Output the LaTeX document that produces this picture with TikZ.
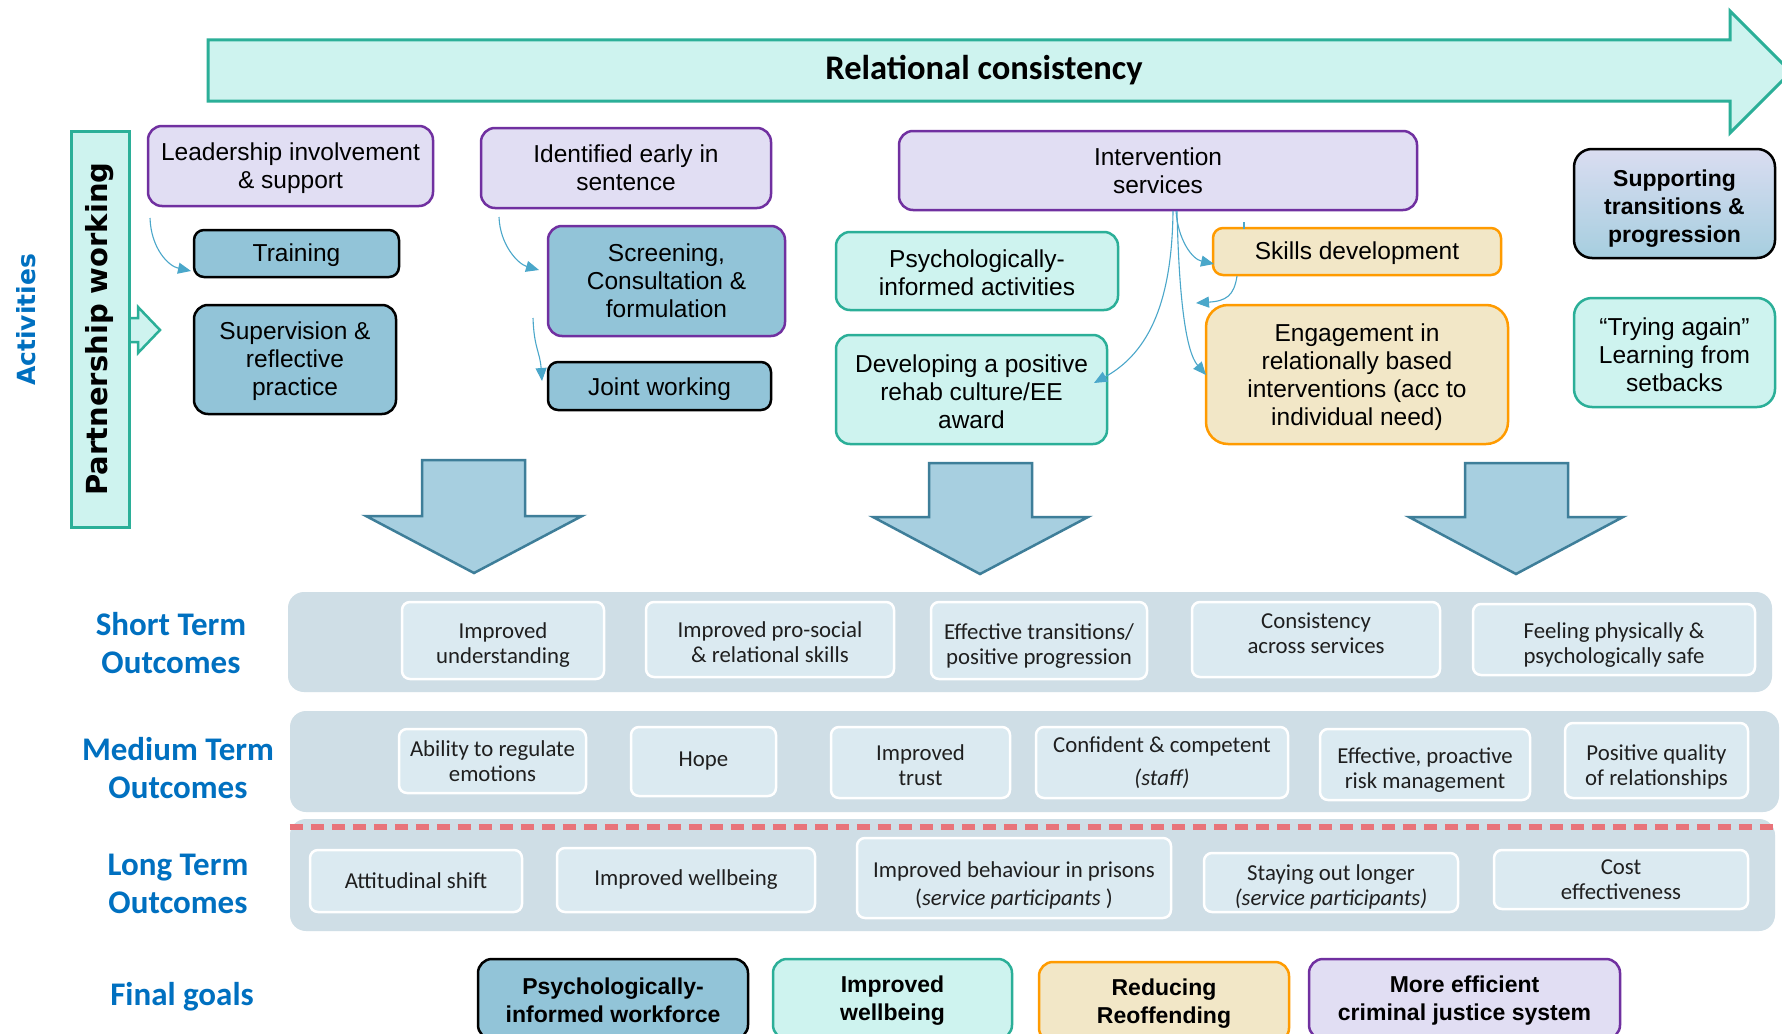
\documentclass[tikz,border=0pt]{standalone}
\usepackage{fontspec}
\setmainfont{Liberation Sans}
\newfontfamily\calfont{Carlito}
\newfontfamily\dvfont{DejaVu Sans}
\usetikzlibrary{arrows.meta}
\newcommand\tup[1]{\rule{0pt}{#1pt}}
\definecolor{purpc}{HTML}{7030A0}
\definecolor{lavc}{HTML}{E1DEF3}
\definecolor{steelc}{HTML}{92C4D8}
\definecolor{tealc}{HTML}{2BAF98}
\definecolor{cyanc}{HTML}{CEF3EF}
\definecolor{orc}{HTML}{FF9B00}
\definecolor{beigec}{HTML}{F2E7C7}
\definecolor{arrowfill}{HTML}{A7CFE0}
\definecolor{arrowdraw}{HTML}{3E7E99}
\definecolor{bandc}{HTML}{CFDEE6}
\definecolor{inboxc}{HTML}{DBEAF1}
\definecolor{redc}{HTML}{E8737A}
\definecolor{bluec}{HTML}{0070C0}
\definecolor{connc}{HTML}{4AA7CA}
\definecolor{suptop}{HTML}{DADDF1}
\definecolor{supbot}{HTML}{A6CEDF}
\begin{document}
\begin{tikzpicture}[x=1pt,y=-1pt,
  sz/.style 2 args={minimum width=#1pt, minimum height=#2pt},
  upw/.style={execute at end node={\rule[-#1pt]{0pt}{#1pt}}},
  actbox/.style={rounded corners=14pt, line width=2.5pt, align=center, inner sep=0pt, font=\fontsize{24.5}{28}\selectfont},
  purpbox/.style={actbox, draw=purpc, fill=lavc},
  blkbox/.style={actbox, draw=black, fill=steelc},
  tealbox/.style={actbox, draw=tealc, fill=cyanc},
  orbox/.style={actbox, draw=orc, fill=beigec},
  goalfont/.style={font=\bfseries\fontsize{23}{28}\selectfont},
  outbox/.style={rounded corners=8pt, draw=white, line width=2.5pt, fill=inboxc, align=center, inner sep=0pt, text=black!88, font=\calfont\fontsize{22.8}{25}\selectfont},
  bandbox/.style={rounded corners=16pt, fill=bandc, inner sep=0pt},
  lbl/.style={text=bluec, align=center, font=\calfont\bfseries\fontsize{33}{38}\selectfont},
  conn/.style={draw=connc, line width=1.1pt, -{Triangle[length=13pt,width=11pt]}},
  bigarrow/.style={fill=arrowfill, draw=arrowdraw, line width=2.5pt, line join=miter}
]
\useasboundingbox (0,0) rectangle (1782,1033);
\fill[white] (0,0) rectangle (1782,1033);
\clip (0,0) rectangle (1782,1033);

% Relational consistency arrow
\draw[fill=cyanc, draw=tealc, line width=3pt, line join=miter]
  (208,40) -- (1730,40) -- (1730,11) -- (1791,72) -- (1730,133) -- (1730,101) -- (208,101) -- cycle;
\node[font=\calfont\bfseries\fontsize{34.5}{40}\selectfont] (rel) at (984,70) {Relational consistency};

% Activities label and partnership working
\node[rotate=90, text=bluec, font=\dvfont\bfseries\fontsize{25}{30}\selectfont] (act) at (26,320) {Activities};
\draw[fill=cyanc, draw=tealc, line width=2.5pt, line join=miter]
  (129,318) -- (138,318) -- (138,307) -- (160,330) -- (138,353) -- (138,342) -- (129,342);
\node[rotate=90, sz={396}{58}, draw=tealc, fill=cyanc, line width=3pt, inner sep=0pt,
  font=\dvfont\bfseries\fontsize{29}{32}\selectfont] (pw) at (100,329) {Partnership working};

% Activity boxes
\node[purpbox, sz={285}{80}] (lead) at (290.5,166) {\tup{22}Leadership involvement\\\& support};
\node[blkbox, sz={205}{47}, rounded corners=10pt] (train) at (296.5,253.5) {\tup{22}Training};
\node[blkbox, sz={202}{109}] (superv) at (295,359.5) {\tup{21}Supervision \&\\reflective\\practice};

\node[purpbox, sz={290}{80}] (ident) at (626,168) {Identified early in\\sentence};
\node[actbox, draw=purpc, fill=steelc, sz={237}{110}] (screen) at (666.5,281) {Screening,\\Consultation \&\\formulation};
\node[blkbox, sz={223}{48}, rounded corners=10pt] (joint) at (659.5,386) {\tup{24}Joint working};

\node[purpbox, sz={518}{79}] (interv) at (1158,170.5) {Intervention\\services};
\node[tealbox, sz={282}{78}] (psych) at (977,271) {\tup{22}Psychologically-\\informed activities};
\node[tealbox, sz={271}{109}] (devel) at (971.5,389.5) {\tup{23}Developing a positive\\rehab culture/EE\\award};
\node[orbox, sz={288}{47}, rounded corners=10pt] (skills) at (1357,251.5) {\tup{22}Skills development};
\node[orbox, sz={302}{139}, rounded corners=22pt] (engage) at (1357,374.5) {\tup{23}Engagement in\\relationally based\\interventions (acc to\\individual need)};

\node[actbox, draw=black, top color=suptop, bottom color=supbot, sz={201}{109}, rounded corners=18pt,
  font=\bfseries\fontsize{23}{28}\selectfont] (support) at (1674.5,203.5) {\tup{26}Supporting\\transitions \&\\progression};
\node[tealbox, sz={201}{109}, rounded corners=18pt] (trying) at (1674.5,352.5) {\tup{23}“Trying again”\\Learning from\\setbacks};

% Connectors
\coordinate (s1) at (150,218);
\coordinate (e1) at (191,271);
\draw[conn] (s1) .. controls (151,248) and (168,266) .. (e1);
\coordinate (s2) at (499,217);
\coordinate (e2) at (539,270);
\draw[conn] (s2) .. controls (500,245) and (518,264) .. (e2);
\coordinate (s3) at (533,318);
\coordinate (e3) at (542,381);
\draw[conn] (s3) .. controls (534,348) and (540,352) .. (e3);
\coordinate (s4) at (1173,211);
\coordinate (e4) at (1094,383);
\draw[conn] (s4) .. controls (1172,300) and (1150,352) .. (e4);
\coordinate (s5) at (1176,211);
\coordinate (e5) at (1214,264);
\draw[conn] (s5) .. controls (1178,240) and (1192,259) .. (e5);
\coordinate (s6) at (1177,211);
\coordinate (e6) at (1206,375);
\draw[conn] (s6) .. controls (1179,300) and (1186,352) .. (e6);
\coordinate (s7) at (1237,276);
\coordinate (e7) at (1196,303);
\draw[conn] (s7) .. controls (1234,296) and (1226,301) .. (e7);
\coordinate (k1) at (1244,222);
\coordinate (k2) at (1244,229);
\draw[draw=connc, line width=1.1pt] (k1) -- (k2);

% Big down arrows
\draw[bigarrow] (422,460) -- (525,460) -- (525,516) -- (582,516) -- (474,573) -- (366,516) -- (422,516) -- cycle;
\draw[bigarrow] (929,463) -- (1032,463) -- (1032,517) -- (1088,517) -- (980,574) -- (873,517) -- (929,517) -- cycle;
\draw[bigarrow] (1465,463) -- (1568,463) -- (1568,517) -- (1623,517) -- (1516,574) -- (1409,517) -- (1465,517) -- cycle;

% Bands
\node[bandbox, sz={1484}{100}] (bs) at (1030,642) {};
\node[bandbox, sz={1489}{101}] (bm) at (1034.5,761.5) {};
\node[bandbox, sz={1485}{112}] (bl) at (1032.5,875) {};
\draw[redc, line width=5.5pt, dash pattern=on 13pt off 8pt] (bl.west |- 0,827) -- (1779,827);

% Labels
\node[lbl] (lshort) at (171,643) {Short Term\\Outcomes};
\node[lbl] (lmed) at (178,768) {Medium Term\\Outcomes};
\node[lbl] (llong) at (178,884) {Long Term\\Outcomes};
\node[lbl] (lfinal) at (182,997) {Final goals};

% Short term outcomes
\node[outbox, sz={202}{77}] (su1) at (503,640.5) {\tup{24.5}Improved\\understanding};
\node[outbox, sz={248}{75}] (su2) at (770,639.5) {\tup{22}Improved pro-social\\\& relational skills};
\node[outbox, sz={216}{77}] (su3) at (1039,640.5) {\tup{27}Effective transitions/\\positive progression};
\node[outbox, sz={248}{75}, upw=12] (su4) at (1316,639.5) {Consistency\\across services};
\node[outbox, sz={282}{71}] (su5) at (1614,639.5) {\tup{27}Feeling physically \&\\psychologically safe};

% Medium term outcomes
\node[outbox, sz={187}{64}] (m1) at (492.5,761) {Ability to regulate\\emotions};
\node[outbox, sz={145}{69}] (m2) at (703.5,761.5) {Hope};
\node[outbox, sz={179}{71}] (m3) at (920.5,762.5) {\tup{22}Improved\\trust};
\node[outbox, sz={252}{71}] (m4) at (1162,762.5) {Confident \& competent\\[8pt]\textit{(staff)}};
\node[outbox, sz={210}{71}] (m5) at (1425,764.5) {\tup{26.5}Effective, proactive\\risk management};
\node[outbox, sz={183}{75}] (m6) at (1656.5,760.5) {\tup{29}Positive quality\\of relationships};

% Long term outcomes
\node[outbox, sz={212}{62}] (l1) at (416,881) {Attitudinal shift};
\node[outbox, sz={258}{64}] (l2) at (686,880) {Improved wellbeing};
\node[outbox, sz={314}{80}] (l3) at (1014,878) {\tup{31.5}Improved behaviour in prisons\\[3pt](\textit{service participants} )};
\node[outbox, sz={254}{59}] (l4) at (1331,882.5) {\tup{24.5}Staying out longer\\\textit{(service participants)}};
\node[outbox, sz={254}{59}] (l5) at (1621,879.5) {Cost\\effectiveness};

% Final goals
\node[blkbox, goalfont, sz={270}{80}] (g1) at (613,999) {\tup{19}Psychologically-\\informed workforce};
\node[tealbox, goalfont, sz={239}{80}] (g2) at (892.5,999) {\tup{19}Improved\\wellbeing};
\node[orbox, goalfont, sz={250}{80}] (g3) at (1164,1002) {\tup{19}Reducing\\Reoffending};
\node[purpbox, goalfont, sz={311}{80}] (g4) at (1464.5,999) {\tup{19}More efficient\\criminal justice system};
\end{tikzpicture}
\end{document}
